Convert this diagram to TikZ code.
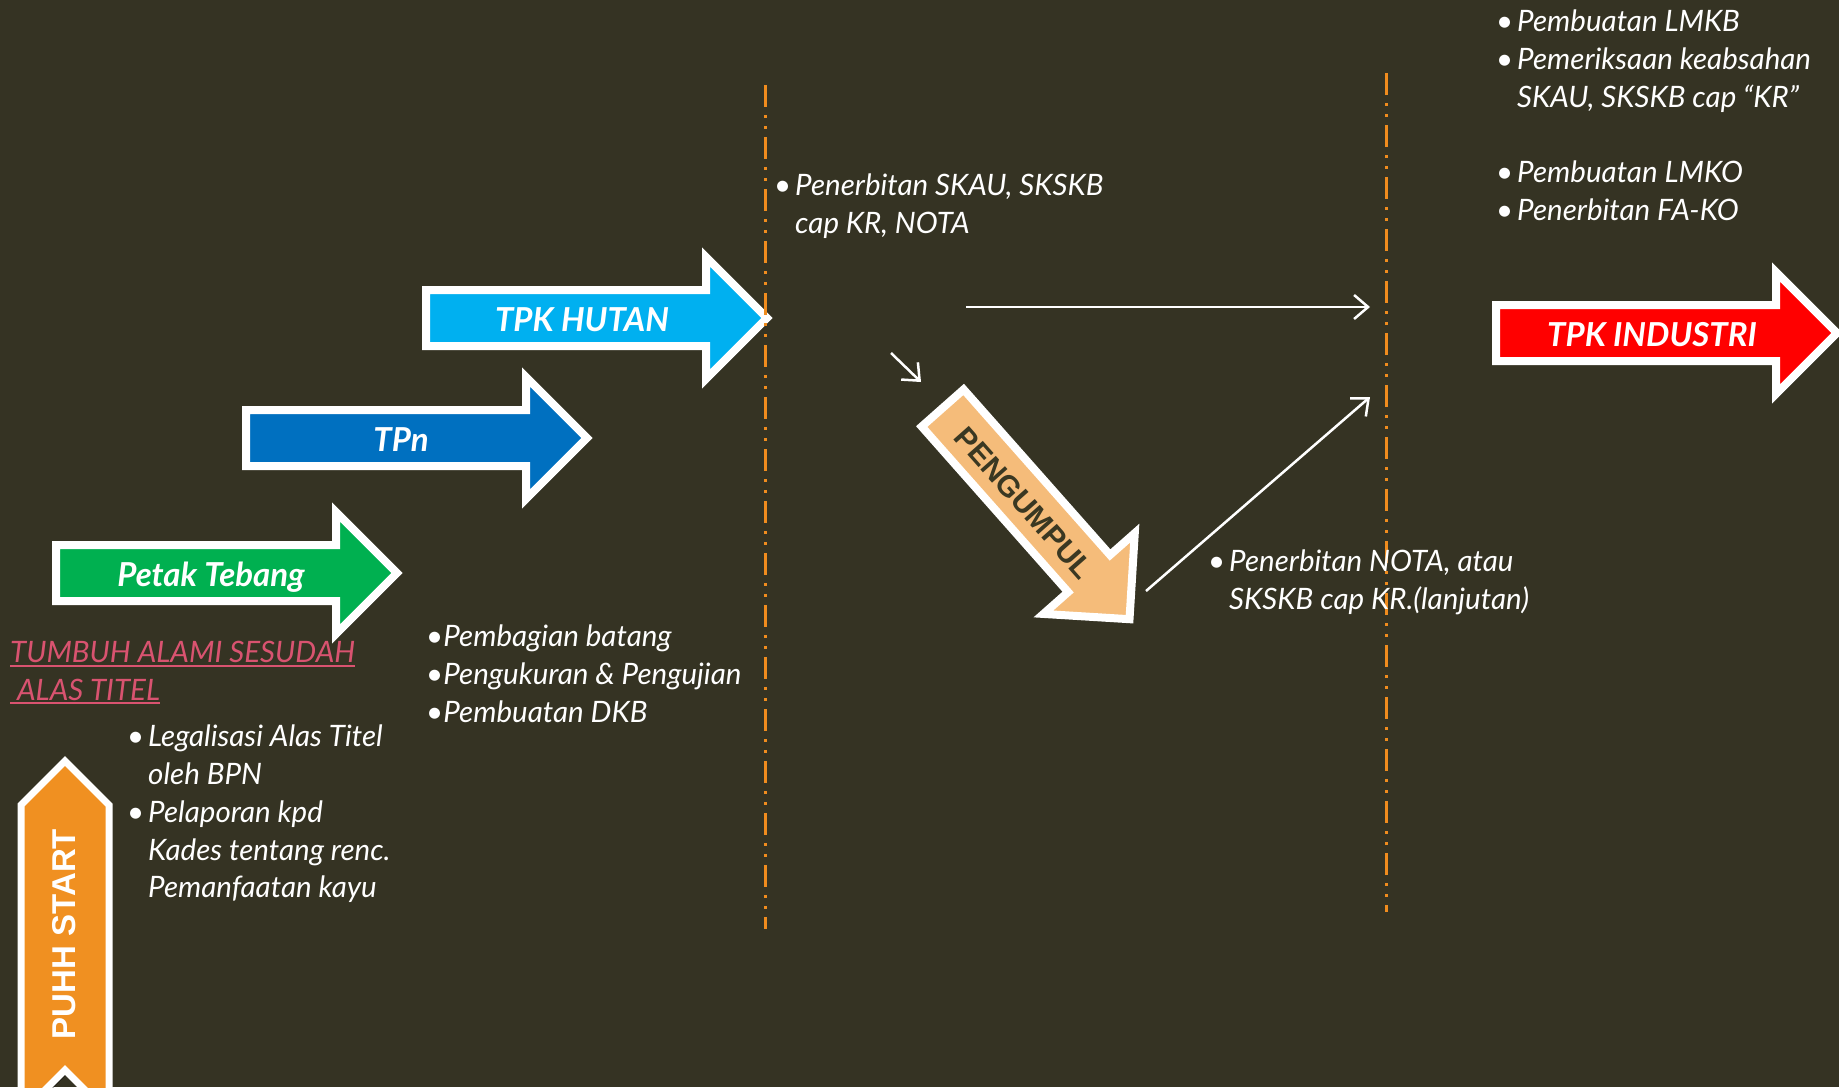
\documentclass[tikz,border=0pt]{standalone}
\usepackage{fontspec}
\setmainfont{Lato}
\newfontfamily\boxfont{Liberation Sans}
\usetikzlibrary{arrows.meta, shadows}

\definecolor{bgolive}{RGB}{53,51,35}
\definecolor{sepline}{RGB}{240,140,30}
\definecolor{greenarr}{RGB}{0,176,80}
\definecolor{bluearr}{RGB}{0,112,192}
\definecolor{cyanarr}{RGB}{0,176,240}
\definecolor{redarr}{RGB}{255,0,0}
\definecolor{orangearr}{RGB}{240,144,33}
\definecolor{peacharr}{RGB}{245,188,122}
\definecolor{pinktxt}{RGB}{217,83,112}
\definecolor{darktxt}{RGB}{58,56,34}

\newcommand{\bul}{\makebox[21pt][l]{\textbullet}}
\newcommand{\ind}{\hspace*{21pt}}
\newcommand{\uln}[1]{\setbox0=\hbox{#1}\rlap{\rule[-4pt]{\wd0}{1.8pt}}\box0}
% #1 rear point, #2 angle, #3 fill, #4 end of shaft
\newcommand{\blockarrow}[4]{%
  \draw[blockarr, fill=#3, shift={#1}, rotate=#2]
    (4,-28) -- (#4,-28) -- (#4,-61) -- (#4+61,0) -- (#4,61) -- (#4,28) -- (4,28) -- cycle;}

\begin{document}
\begin{tikzpicture}[x=1pt, y=-1pt,
    blockarr/.style={draw=white, line width=8pt, line join=miter,
      drop shadow={shadow xshift=3pt, shadow yshift=-3pt, opacity=.45, fill=black}},
    lbl/.style={anchor=base, text=white, font=\fontsize{33}{33}\selectfont\bfseries\itshape},
    note/.style={anchor=north west, inner sep=0pt, align=left, text=white,
      font=\fontsize{29.5}{37.7}\selectfont\itshape},
    flow/.style={draw=white, line width=2.5pt, -{Straight Barb[length=14pt, width=24pt]}},
    sep/.style={draw=sepline, line width=3pt, dash pattern=on 22pt off 8pt on 3pt off 8pt on 3pt off 8pt}]

    \fill[bgolive] (0,0) rectangle (1839,1087);
    \clip (0,0) rectangle (1839,1087);

    % block arrows
    \blockarrow{(52,573)}{0}{greenarr}{284}
    \blockarrow{(242,438)}{0}{bluearr}{284}
    \blockarrow{(422,318)}{0}{cyanarr}{284}
    \blockarrow{(1492,333)}{0}{redarr}{284}
    \blockarrow{(940,405)}{-48.5}{peacharr}{225}
    \draw[blockarr, line width=7pt, fill=orangearr]
        (21,805) -- (65,761) -- (109,805) -- (109,1114) -- (65,1070) -- (21,1114) -- cycle;

    \node[lbl] (petak) at (211,586) {Petak Tebang};
    \node[lbl] (tpn) at (401,451) {TPn};
    \node[lbl] (hutan) at (582,331) {TPK HUTAN};
    \node[lbl] (industri) at (1652,346) {TPK INDUSTRI};
    \node[text=darktxt, rotate=-48.5, font=\boxfont\fontsize{30}{30}\selectfont\bfseries]
        (pengumpul) at (1024,503) {PENGUMPUL};
    \node[text=white, rotate=90, font=\boxfont\fontsize{33}{33}\selectfont\bfseries]
        (puhh) at (64,934) {PUHH START};

    % separators
    \coordinate (cut1top) at (765,85);
    \coordinate (cut1bot) at (765,929);
    \coordinate (cut2top) at (1386,73);
    \coordinate (cut2bot) at (1386,912);
    \draw[sep] (cut1top) -- (cut1bot);
    \draw[sep] (cut2top) -- (cut2bot);

    % flows
    \coordinate (skip0) at (966,307);
    \coordinate (skip1) at (1370,307);
    \coordinate (tokumpul0) at (891,353);
    \coordinate (tokumpul1) at (921,382);
    \coordinate (fromkumpul0) at (1146,591);
    \coordinate (fromkumpul1) at (1370,397);
    \draw[flow] (skip0) -- (skip1);
    \draw[flow] (tokumpul0) -- (tokumpul1);
    \draw[flow] (fromkumpul0) -- (fromkumpul1);

    % notes
    \node[note] (industrinote) at (1496,10) {\bul Pembuatan LMKB\\
        \bul Pemeriksaan keabsahan\\
        \ind SKAU, SKSKB cap “KR”\\[37.7pt]
        \bul Pembuatan LMKO\\
        \bul Penerbitan FA-KO};
    \node[note] (hutannote) at (774,174) {\bul Penerbitan SKAU, SKSKB\\
        \ind cap KR, NOTA};
    \node[note] (kumpulnote) at (1208,550) {\bul Penerbitan NOTA, atau\\
        \ind SKSKB cap KR.(lanjutan)};
    \node[note] (tpnnote) at (426,625) {\textbullet Pembagian batang\\
        \textbullet Pengukuran \& Pengujian\\
        \textbullet Pembuatan DKB};
    \node[note, text=pinktxt] (tumbuh) at (10,641) {\uln{TUMBUH ALAMI SESUDAH}\\
        \uln{\ ALAS TITEL}};
    \node[note] (startnote) at (127,725) {\bul Legalisasi Alas Titel\\
        \ind oleh BPN\\
        \bul Pelaporan kpd\\
        \ind Kades tentang renc.\\
        \ind Pemanfaatan kayu};
\end{tikzpicture}
\end{document}
